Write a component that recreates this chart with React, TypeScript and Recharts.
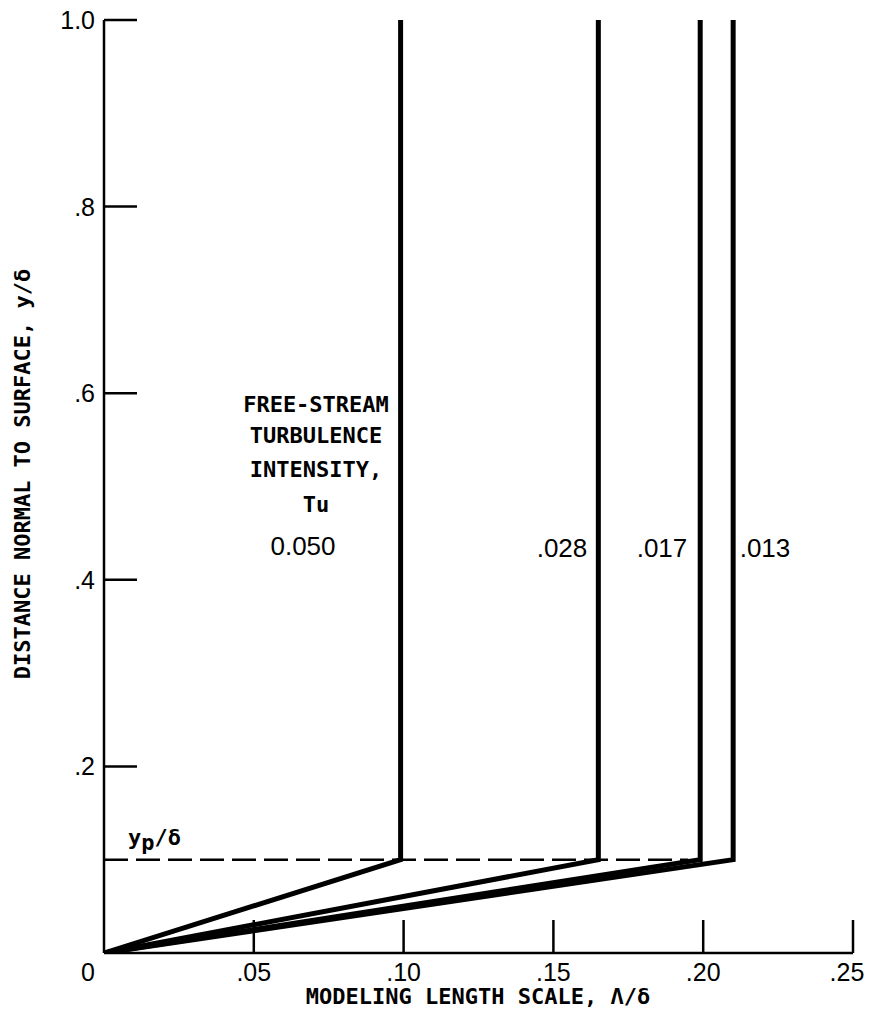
import { LineChart, Line, XAxis, YAxis, Customized } from "recharts";

// free-stream turbulence intensity, one curve each
const TU_LABELS = ["0.050", ".028", ".017", ".013"];
// Λ/δ in the outer region (y > y_p)
const OUTER_SCALE = [0.099, 0.165, 0.199, 0.21];
const Y_P = 0.1;
const Y_EDGE = 1.0;
const DASH_END = 0.195;

const X_TICKS = [0, 0.05, 0.1, 0.15, 0.2, 0.25];
const X_TICK_LABELS = ["0", ".05", ".10", ".15", ".20", ".25"];
const Y_TICKS = [0, 0.2, 0.4, 0.6, 0.8, 1.0];
const Y_TICK_LABELS = ["", ".2", ".4", ".6", ".8", "1.0"];
const TITLE_LINES = ["FREE-STREAM", "TURBULENCE", "INTENSITY,", "Tu"];

const MONO = "'DejaVu Sans Mono', monospace";
const SANS = "'Liberation Sans', Arial, sans-serif";

const series = OUTER_SCALE.map((lam) => [
  { x: 0, y: 0 },
  { x: lam, y: Y_P },
  { x: lam, y: Y_EDGE },
]);
const dashed = [
  { x: 0, y: Y_P },
  { x: DASH_END, y: Y_P },
];

const YTick = (props: any) => {
  const { x, y, payload } = props;
  const i = Y_TICKS.indexOf(payload.value);
  if (i <= 0) return <g />;
  return (
    <g>
      <line x1={x} y1={y} x2={x + 33} y2={y} stroke="#000" strokeWidth={2.5} />
      <text x={x - 9} y={y + 9} textAnchor="end" fontFamily={SANS} fontSize={25} fill="#000">
        {Y_TICK_LABELS[i]}
      </text>
    </g>
  );
};

const XTick = (props: any) => {
  const { x, y, payload } = props;
  const i = X_TICKS.indexOf(payload.value);
  if (i < 0) return <g />;
  const shift = i === 0 ? -16 : i === X_TICKS.length - 1 ? -6 : 0;
  return (
    <g>
      {i > 0 && <line x1={x} y1={y} x2={x} y2={y - 33} stroke="#000" strokeWidth={2.5} />}
      <text x={x + shift} y={y + 28} textAnchor="middle" fontFamily={SANS} fontSize={25} fill="#000">
        {X_TICK_LABELS[i]}
      </text>
    </g>
  );
};

// offsets below are svg coords; the svg sits at page y = 0
const Notes = () => (
  <g fill="#000" fontWeight="bold" transform="translate(0, 8)">
    {TITLE_LINES.map((t, i) => (
      <text key={t} x={308} y={[404, 435, 469, 504][i]} textAnchor="middle" fontFamily={MONO} fontSize={22}>
        {t}
      </text>
    ))}
    <text x={295} y={547} textAnchor="middle" fontFamily={SANS} fontWeight="normal" fontSize={26}>{TU_LABELS[0]}</text>
    <text x={554} y={549} textAnchor="middle" fontFamily={SANS} fontWeight="normal" fontSize={26}>{TU_LABELS[1]}</text>
    <text x={654} y={549} textAnchor="middle" fontFamily={SANS} fontWeight="normal" fontSize={26}>{TU_LABELS[2]}</text>
    <text x={757} y={549} textAnchor="middle" fontFamily={SANS} fontWeight="normal" fontSize={26}>{TU_LABELS[3]}</text>
    <text x={120} y={837} fontFamily={MONO} fontSize={22}>
      y<tspan dy={5}>p</tspan>
      <tspan dy={-5}>/δ</tspan>
    </text>
    <text x={470} y={996} textAnchor="middle" fontFamily={MONO} fontSize={22}>
      MODELING LENGTH SCALE, Λ/δ
    </text>
    <text
      x={0}
      y={0}
      transform="translate(22, 466) rotate(-90)"
      textAnchor="middle"
      fontFamily={MONO}
      fontSize={22}
    >
      DISTANCE NORMAL TO SURFACE, y/δ
    </text>
  </g>
);

export default function App() {
  return (
    <div style={{ width: 859, height: 1010, marginTop: -8 }}>
      <LineChart
        width={859}
        height={1010}
        margin={{ top: 20, right: 14, bottom: 56, left: 95 }}
      >
        <XAxis
          type="number"
          dataKey="x"
          domain={[0, 0.25]}
          ticks={X_TICKS}
          height={1}
          tickSize={0}
          tickMargin={0}
          tickLine={false}
          tick={<XTick />}
          axisLine={{ stroke: "#000", strokeWidth: 2.5 }}
          allowDataOverflow
        />
        <YAxis
          type="number"
          dataKey="y"
          domain={[0, 1]}
          ticks={Y_TICKS}
          width={1}
          tickSize={0}
          tickMargin={0}
          tickLine={false}
          tick={<YTick />}
          axisLine={{ stroke: "#000", strokeWidth: 2.5 }}
          allowDataOverflow
        />
        <Line
          data={dashed}
          dataKey="y"
          stroke="#000"
          strokeWidth={2.5}
          strokeDasharray="24 8"
          dot={false}
          activeDot={false}
          isAnimationActive={false}
        />
        {series.map((d, i) => (
          <Line
            key={TU_LABELS[i]}
            data={d}
            dataKey="y"
            stroke="#000"
            strokeWidth={5}
            strokeLinejoin="miter"
            dot={false}
            activeDot={false}
            isAnimationActive={false}
          />
        ))}
        <Customized component={Notes} />
      </LineChart>
    </div>
  );
}
